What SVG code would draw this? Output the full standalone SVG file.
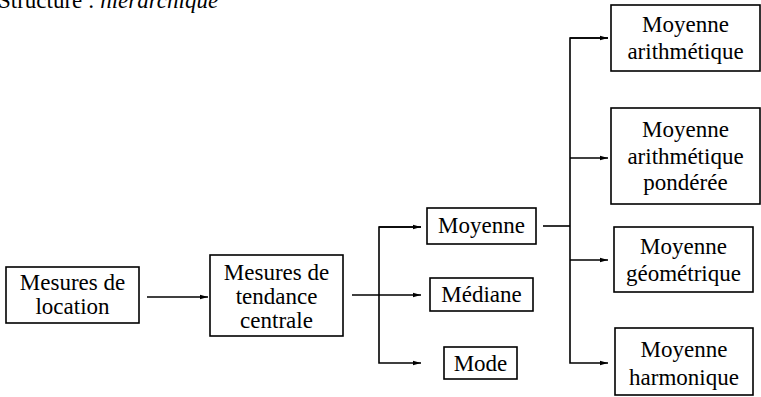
<svg xmlns="http://www.w3.org/2000/svg" width="761" height="397" viewBox="0 0 761 397">
<style>
.box{fill:#fff;stroke:#000;stroke-width:1.6}
.t{font-family:"Liberation Serif","Times New Roman",Times,"DejaVu Serif","Noto Serif",FreeSerif,serif;font-size:23px;fill:#000;text-anchor:middle}
.h{font-family:"Liberation Serif","Times New Roman",Times,"DejaVu Serif","Noto Serif",FreeSerif,serif;font-size:23px;fill:#000}
.c{fill:none;stroke:#000;stroke-width:1.6}
</style>
<defs>
<marker id="ah" viewBox="0 0 8 6" refX="8" refY="3" markerWidth="8" markerHeight="6" markerUnits="userSpaceOnUse" orient="auto">
<path d="M0,0.8 L8,3 L0,5.2 z" fill="#000"/>
</marker>
</defs>
<text class="h" x="-2" y="8">Structure : <tspan font-style="italic">hiérarchique</tspan></text>
<g id="connectors">
<path class="c" d="M147,297 H208" marker-end="url(#ah)"/>
<path class="c" d="M352,295 H421" marker-end="url(#ah)"/>
<path class="c" d="M421,227 H379 V363 H421" marker-end="url(#ah)"/>
<path class="c" d="M379,227 H421" marker-end="url(#ah)"/>
<path class="c" d="M543,226 H570"/>
<path class="c" d="M608,38 H570 V363 H608" marker-end="url(#ah)"/>
<path class="c" d="M570,38 H608" marker-end="url(#ah)"/>
<path class="c" d="M570,158 H608" marker-end="url(#ah)"/>
<path class="c" d="M570,260 H608" marker-end="url(#ah)"/>
</g>
<g id="location">
<rect class="box" x="6" y="267" width="133" height="56"/>
<text class="t" x="72.5" y="290">Mesures de</text>
<text class="t" x="72.5" y="314">location</text>
</g>
<g id="tendance">
<rect class="box" x="210" y="255" width="133" height="81"/>
<text class="t" x="276.5" y="280">Mesures de</text>
<text class="t" x="276.5" y="304">tendance</text>
<text class="t" x="276.5" y="328">centrale</text>
</g>
<g id="moyenne">
<rect class="box" x="427" y="208" width="109" height="36"/>
<text class="t" x="481.5" y="233">Moyenne</text>
</g>
<g id="mediane">
<rect class="box" x="430" y="278" width="103" height="33"/>
<text class="t" x="481.5" y="302">Médiane</text>
</g>
<g id="mode">
<rect class="box" x="444" y="347" width="73" height="32"/>
<text class="t" x="480.5" y="371">Mode</text>
</g>
<g id="arith">
<rect class="box" x="611" y="5" width="149" height="66"/>
<text class="t" x="685.5" y="32">Moyenne</text>
<text class="t" x="685.5" y="59">arithmétique</text>
</g>
<g id="ponderee">
<rect class="box" x="611" y="108" width="149" height="96"/>
<text class="t" x="685.5" y="137">Moyenne</text>
<text class="t" x="685.5" y="164">arithmétique</text>
<text class="t" x="685.5" y="190">pondérée</text>
</g>
<g id="geo">
<rect class="box" x="614" y="227" width="139" height="65"/>
<text class="t" x="683.5" y="254">Moyenne</text>
<text class="t" x="683.5" y="281">géométrique</text>
</g>
<g id="harmo">
<rect class="box" x="615" y="328" width="138" height="67"/>
<text class="t" x="684" y="357">Moyenne</text>
<text class="t" x="684" y="385">harmonique</text>
</g>
</svg>
